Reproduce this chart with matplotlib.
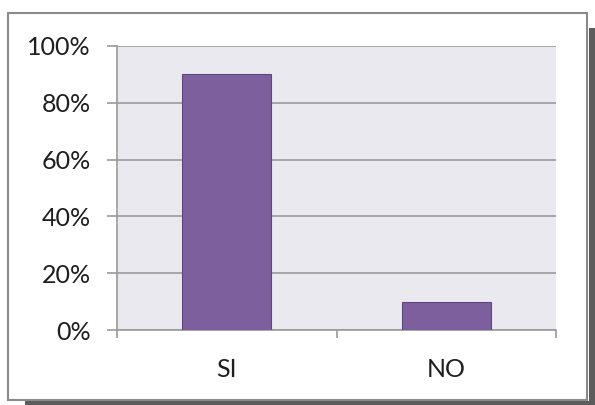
import matplotlib.pyplot as plt
from matplotlib.patches import Rectangle
from matplotlib.ticker import PercentFormatter

categories = ["SI", "NO"]
values = [0.90, 0.10]
y_ticks = [0, 0.2, 0.4, 0.6, 0.8, 1.0]

W, H = 595, 405
fig = plt.figure(figsize=(W / 100, H / 100), dpi=100)
fig.patch.set_facecolor("white")

# drop shadow + outer frame (pixel coords -> figure fraction)
def px(x0, y0, x1, y1):
    return (x0 / W, 1 - y1 / H), (x1 - x0) / W, (y1 - y0) / H

xy, w, h = px(589, 28, 595, 405)
fig.patches.append(Rectangle(xy, w, h, transform=fig.transFigure, facecolor="#5c5c5c", edgecolor="none", zorder=-10))
xy, w, h = px(25, 401, 595, 405)
fig.patches.append(Rectangle(xy, w, h, transform=fig.transFigure, facecolor="#5c5c5c", edgecolor="none", zorder=-10))
xy, w, h = px(8, 13, 587, 400)
fig.patches.append(Rectangle(xy, w, h, transform=fig.transFigure, facecolor="white", edgecolor="#8a8a8a", linewidth=1.5, zorder=-9))

ax = fig.add_axes([117 / W, 1 - 330 / H, (556 - 117) / W, (330 - 46) / H])
ax.set_zorder(5)
ax.set_facecolor("#ebe9f0")

x = range(len(categories))
ax.bar(x, values, width=0.405, color="#7d5f9e", edgecolor="#5e4680", linewidth=0.8, zorder=3)

ax.set_xlim(-0.5, len(categories) - 0.5)
ax.set_ylim(0, 1)
ax.set_yticks(y_ticks)
ax.yaxis.set_major_formatter(PercentFormatter(1.0, decimals=0))
ax.grid(axis="y", color="#9a9a9a", linewidth=1.2, zorder=1)

ax.set_xticks([-0.5, 0.5, 1.5])
ax.set_xticklabels([])
ax.set_xticks(list(x), minor=True)
ax.set_xticklabels(categories, minor=True)
ax.tick_params(axis="x", which="minor", length=0, pad=20, labelsize=18, labelcolor="#1e1e1e")
ax.tick_params(axis="x", which="major", length=6, color="#9a9a9a", width=1.2)
ax.tick_params(axis="y", length=7, color="#9a9a9a", width=1.2, pad=12, labelsize=18, labelcolor="#1e1e1e")

for lab in ax.get_yticklabels() + ax.get_xticklabels(minor=True):
    lab.set_fontfamily("Lato")

for s in ["top", "right"]:
    ax.spines[s].set_visible(False)
ax.spines["left"].set_color("#9a9a9a")
ax.spines["bottom"].set_color("#9a9a9a")
ax.spines["left"].set_linewidth(1.2)
ax.spines["bottom"].set_linewidth(1.2)

fig.savefig("out.png", dpi=100)
